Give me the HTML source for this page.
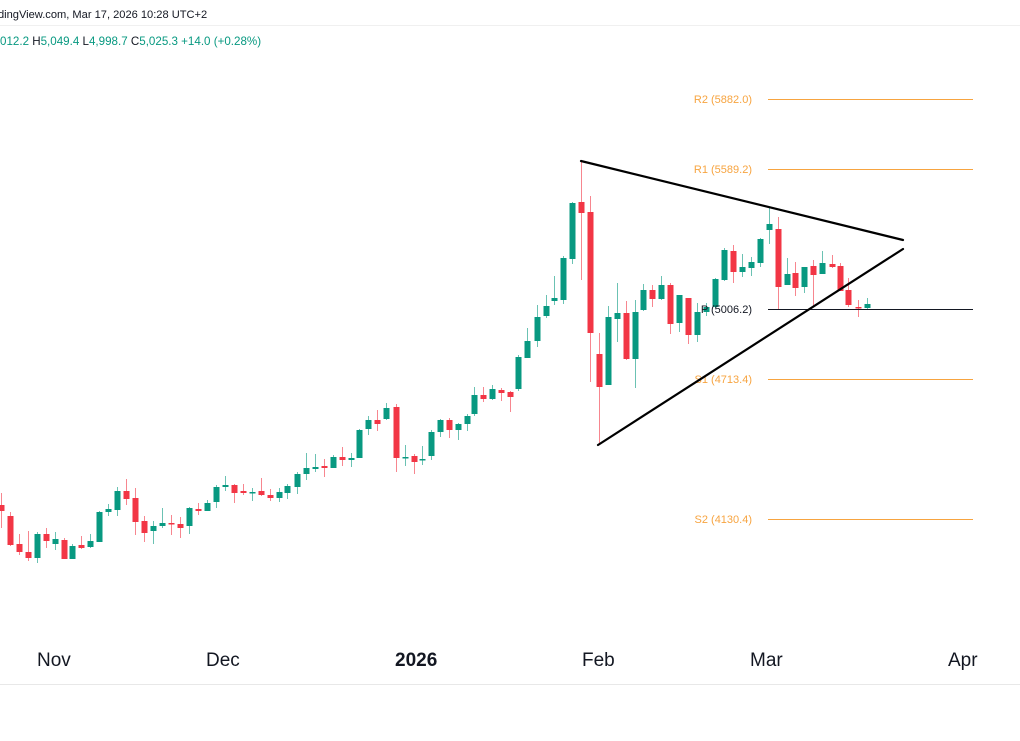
<!DOCTYPE html>
<html><head><meta charset="utf-8"><style>
html,body{margin:0;padding:0;background:#fff;width:1020px;height:741px;overflow:hidden}
svg{display:block}
</style></head><body>
<svg width="1020" height="741" xmlns="http://www.w3.org/2000/svg" font-family="'Liberation Sans', sans-serif">
<rect width="1020" height="741" fill="#fff"/>
<text x="-2" y="18" font-size="11.1" fill="#131722">dingView.com, Mar 17, 2026 10:28 UTC+2</text>
<line x1="0" y1="25.5" x2="1020" y2="25.5" stroke="#f0f0f0"/>
<text x="0" y="45" font-size="11.6" fill="#089981">012.2 <tspan fill="#131722">H</tspan>5,049.4 <tspan fill="#131722">L</tspan>4,998.7 <tspan fill="#131722">C</tspan>5,025.3 +14.0 (+0.28%)</text>
<g id="c"></g>
<g stroke="#f7a440" stroke-width="1">
<line x1="768" y1="99.5" x2="973" y2="99.5"/>
<line x1="768" y1="169.5" x2="973" y2="169.5"/>
<line x1="768" y1="379.5" x2="973" y2="379.5"/>
<line x1="768" y1="519.5" x2="973" y2="519.5"/>
</g>
<line x1="768" y1="309.5" x2="973" y2="309.5" stroke="#131722"/>
<g font-size="11" text-anchor="end">
<text x="752" y="103" fill="#f7a440">R2 (5882.0)</text>
<text x="752" y="173" fill="#f7a440">R1 (5589.2)</text>
<text x="752" y="313" fill="#131722">P (5006.2)</text>
<text x="752" y="383" fill="#f7a440">S1 (4713.4)</text>
<text x="752" y="523" fill="#f7a440">S2 (4130.4)</text>
</g>
<g stroke="#000" stroke-width="2.2" stroke-linecap="round">
<line x1="581" y1="161" x2="903" y2="240"/>
<line x1="598" y1="445" x2="903" y2="249"/>
</g>
<g font-size="19" fill="#131722">
<text x="37" y="666">Nov</text>
<text x="206" y="666">Dec</text>
<text x="395" y="666" font-weight="bold">2026</text>
<text x="582" y="666">Feb</text>
<text x="750" y="666">Mar</text>
<text x="948" y="666">Apr</text>
</g>
<line x1="0" y1="684.5" x2="1020" y2="684.5" stroke="#e8e8e8"/>
</svg>
<script>
var G='#089981',R='#f23645';
var d=[
[1,505,511,493,528,R],[10,516,545,512,546,R],[19,544,552,534,555,R],[28,552,558,531,561,R],
[37,534,558,532,563,G],[46,534,541,528,548,R],[55,539,544,532,550,G],[64,540,559,538,559,R],
[72,546,559,544,559,G],[81,545,548,536,549,R],[90,541,547,534,548,G],[99,512,542,511,542,G],
[108,509,512,504,516,G],[117,491,510,487,516,G],[126,491,499,479,505,R],[135,498,522,488,535,R],
[144,521,533,516,542,R],[153,526,531,521,544,G],[162,523,526,508,528,G],[171,523,524,515,535,R],
[180,524,528,517,538,R],[189,508,526,507,534,G],[198,509,511,503,515,R],[207,503,511,500,511,G],
[216,487,502,485,508,G],[225,485,487,476,491,G],[234,485,493,484,503,R],[243,491,493,484,495,R],
[252,492,493,488,501,G],[261,491,495,478,496,R],[270,495,498,489,501,R],[279,492,498,488,502,G],
[287,486,493,484,499,G],[297,474,487,472,494,G],[306,468,474,453,480,G],[315,467,469,454,472,G],
[324,466,468,459,477,R],[333,457,468,455,468,G],[342,457,460,447,466,R],[351,458,460,453,467,G],
[359,430,458,429,458,G],[368,420,429,416,435,G],[377,420,424,410,431,R],[386,408,419,403,420,G],
[396,407,458,404,472,R],[405,457,458,445,466,G],[414,456,462,454,474,R],[422,459,460,446,465,G],
[431,432,456,430,460,G],[440,420,432,419,437,G],[449,420,430,418,438,R],[458,424,430,423,440,G],
[467,416,424,414,431,G],[474,395,414,387,416,G],[483,395,399,387,402,R],[492,389,399,385,400,G],
[501,390,393,388,401,R],[510,392,397,391,412,R],[518,357,389,355,391,G],[527,341,358,328,358,G],
[537,317,341,305,347,G],[546,306,316,295,318,G],[554,298,301,276,305,G],[563,258,300,256,304,G],
[572,203,259,202,264,G],[581,202,213,160,280,R],[590,212,333,196,382,R],[599,354,387,333,445,R],
[608,317,385,306,385,G],[617,313,319,283,342,G],[626,313,359,301,360,R],[635,312,359,300,388,G],
[643,290,310,284,311,G],[652,290,299,285,307,R],[661,285,299,276,300,G],[670,285,324,283,334,R],
[679,295,323,295,332,G],[688,298,335,298,344,R],[697,312,335,303,342,G],[706,307,312,303,316,G],
[715,279,307,278,308,G],[724,250,280,248,281,G],[733,251,272,245,283,R],[742,267,272,254,277,G],
[751,262,268,257,276,G],[760,239,263,238,267,G],[769,224,230,207,244,G],[778,229,287,217,309,R],
[787,274,285,258,285,G],[795,273,288,262,296,R],[804,267,287,267,293,G],[813,266,275,260,306,R],
[822,263,274,251,274,G],[832,264,267,255,268,R],[840,266,291,263,291,R],[848,290,305,278,307,R],
[858,307,308,300,317,R],[867,304,308,298,310,G]];
var s='';
d.forEach(function(c){var x=c[0],t=c[1],b=c[2];if(b-t<1.5)b=t+1.5;
s+='<line x1="'+(x+0.5)+'" y1="'+c[3]+'" x2="'+(x+0.5)+'" y2="'+c[4]+'" stroke="'+c[5]+'" stroke-opacity="0.6" stroke-width="1"/>';
s+='<rect x="'+(x-2.5)+'" y="'+t+'" width="6" height="'+(b-t)+'" fill="'+c[5]+'"/>';});
document.getElementById('c').innerHTML=s;
</script>
</body></html>
